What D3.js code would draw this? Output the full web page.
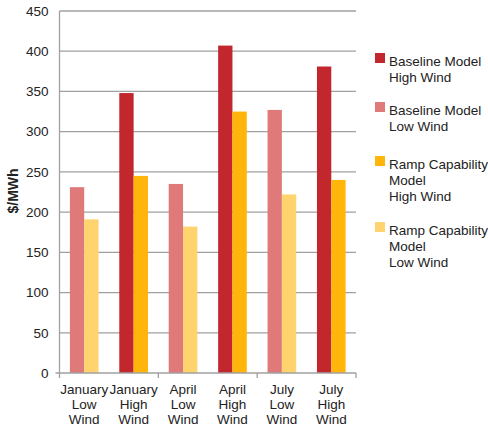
<!DOCTYPE html>
<html>
<head>
<meta charset="utf-8">
<script src="https://cdn.jsdelivr.net/npm/d3@7"></script>
<style>
  body { margin: 0; background: #fff; }
  text { font-family: "Liberation Sans", Arial, sans-serif; fill: #222; }
</style>
</head>
<body>
<div id="chart"></div>
<script>
const width = 488;
const height = 427;

// Data.
const categories = [
  ["January", "Low", "Wind"], ["January", "High", "Wind"],
  ["April", "Low", "Wind"], ["April", "High", "Wind"],
  ["July", "Low", "Wind"], ["July", "High", "Wind"]
];
const windLevel = ["Low", "High", "Low", "High", "Low", "High"];
const baselineValues = [231, 348, 235, 407, 327, 381];
const rampValues = [191, 245, 182, 325, 222, 240];
const yTicks = [0, 50, 100, 150, 200, 250, 300, 350, 400, 450];
const legendItems = [
  { key: "baseHigh", lines: ["Baseline Model", "High Wind"] },
  { key: "baseLow", lines: ["Baseline Model", "Low Wind"] },
  { key: "rampHigh", lines: ["Ramp Capability", "Model", "High Wind"] },
  { key: "rampLow", lines: ["Ramp Capability", "Model", "Low Wind"] }
];

const colors = {
  baseHigh: "#c1272d",
  baseLow: "#e07a7a",
  rampHigh: "#ffb50a",
  rampLow: "#ffd46e"
};

const margin = { top: 11, right: 132, bottom: 54, left: 59.5 };
const innerW = 356 - margin.left;
const innerH = 373 - margin.top;

const svg = d3.select("#chart")
  .append("svg")
  .attr("width", width)
  .attr("height", height);

const g = svg.append("g")
  .attr("transform", `translate(${margin.left},${margin.top})`);

const x = d3.scaleBand()
  .domain(d3.range(categories.length))
  .range([0, innerW])
  .paddingInner(0)
  .paddingOuter(0);

const y = d3.scaleLinear()
  .domain([0, 450])
  .range([innerH, 0]);

const barW = x.bandwidth() * 0.29;

// Gridlines.
g.append("g")
  .selectAll("line")
  .data(yTicks.filter(d => d > 0))
  .join("line")
  .attr("x1", 0)
  .attr("x2", innerW)
  .attr("y1", d => y(d))
  .attr("y2", d => y(d))
  .attr("stroke", "#a0a0a0")
  .attr("stroke-width", 1.3);

// Y tick labels.
g.append("g")
  .selectAll("text")
  .data(yTicks)
  .join("text")
  .attr("x", -11)
  .attr("y", d => y(d))
  .attr("dy", "0.35em")
  .attr("text-anchor", "end")
  .attr("font-size", 13.5)
  .text(d => d);

// Bars.
const groups = g.append("g")
  .selectAll("g")
  .data(categories.map((c, i) => i))
  .join("g")
  .attr("transform", i => `translate(${x(i) + x.bandwidth() / 2},0)`);

groups.append("rect")
  .attr("x", -barW)
  .attr("width", barW)
  .attr("y", i => y(baselineValues[i]))
  .attr("height", i => innerH - y(baselineValues[i]))
  .attr("fill", i => windLevel[i] === "High" ? colors.baseHigh : colors.baseLow);

groups.append("rect")
  .attr("x", 0)
  .attr("width", barW)
  .attr("y", i => y(rampValues[i]))
  .attr("height", i => innerH - y(rampValues[i]))
  .attr("fill", i => windLevel[i] === "High" ? colors.rampHigh : colors.rampLow);

// Axes lines.
g.append("line")
  .attr("x1", 0).attr("x2", 0)
  .attr("y1", 0).attr("y2", innerH)
  .attr("stroke", "#a0a0a0").attr("stroke-width", 1.3);
g.append("line")
  .attr("x1", -4).attr("x2", innerW)
  .attr("y1", innerH).attr("y2", innerH)
  .attr("stroke", "#a0a0a0").attr("stroke-width", 1.3);

// Tick marks at month boundaries.
g.append("g")
  .selectAll("line")
  .data([0, 2, 4, 6])
  .join("line")
  .attr("x1", i => i < categories.length ? x(i) : innerW)
  .attr("x2", i => i < categories.length ? x(i) : innerW)
  .attr("y1", innerH)
  .attr("y2", innerH + 5)
  .attr("stroke", "#a0a0a0").attr("stroke-width", 1.3);

// Category labels.
g.append("g")
  .selectAll("text")
  .data(categories)
  .join("text")
  .attr("text-anchor", "middle")
  .attr("font-size", 13.5)
  .attr("transform", (d, i) => `translate(${x(i) + x.bandwidth() / 2},${innerH + 21})`)
  .selectAll("tspan")
  .data(d => d)
  .join("tspan")
  .attr("x", 0)
  .attr("y", (d, j) => j * 15)
  .text(d => d);

// Y axis title.
svg.append("text")
  .attr("transform", "translate(18,191) rotate(-90)")
  .attr("text-anchor", "middle")
  .attr("font-size", 14)
  .attr("font-weight", "bold")
  .text("$/MWh");

// Legend.
const legendTops = [53, 102, 156, 222];
const legend = svg.append("g")
  .selectAll("g")
  .data(legendItems)
  .join("g")
  .attr("transform", (d, i) => `translate(375,${legendTops[i]})`);

legend.append("rect")
  .attr("width", 10)
  .attr("height", 10)
  .attr("fill", d => colors[d.key]);

legend.append("text")
  .attr("font-size", 13.5)
  .selectAll("tspan")
  .data(d => d.lines)
  .join("tspan")
  .attr("x", 14)
  .attr("y", (d, j) => 13 + j * 16)
  .text(d => d);
</script>
</body>
</html>
